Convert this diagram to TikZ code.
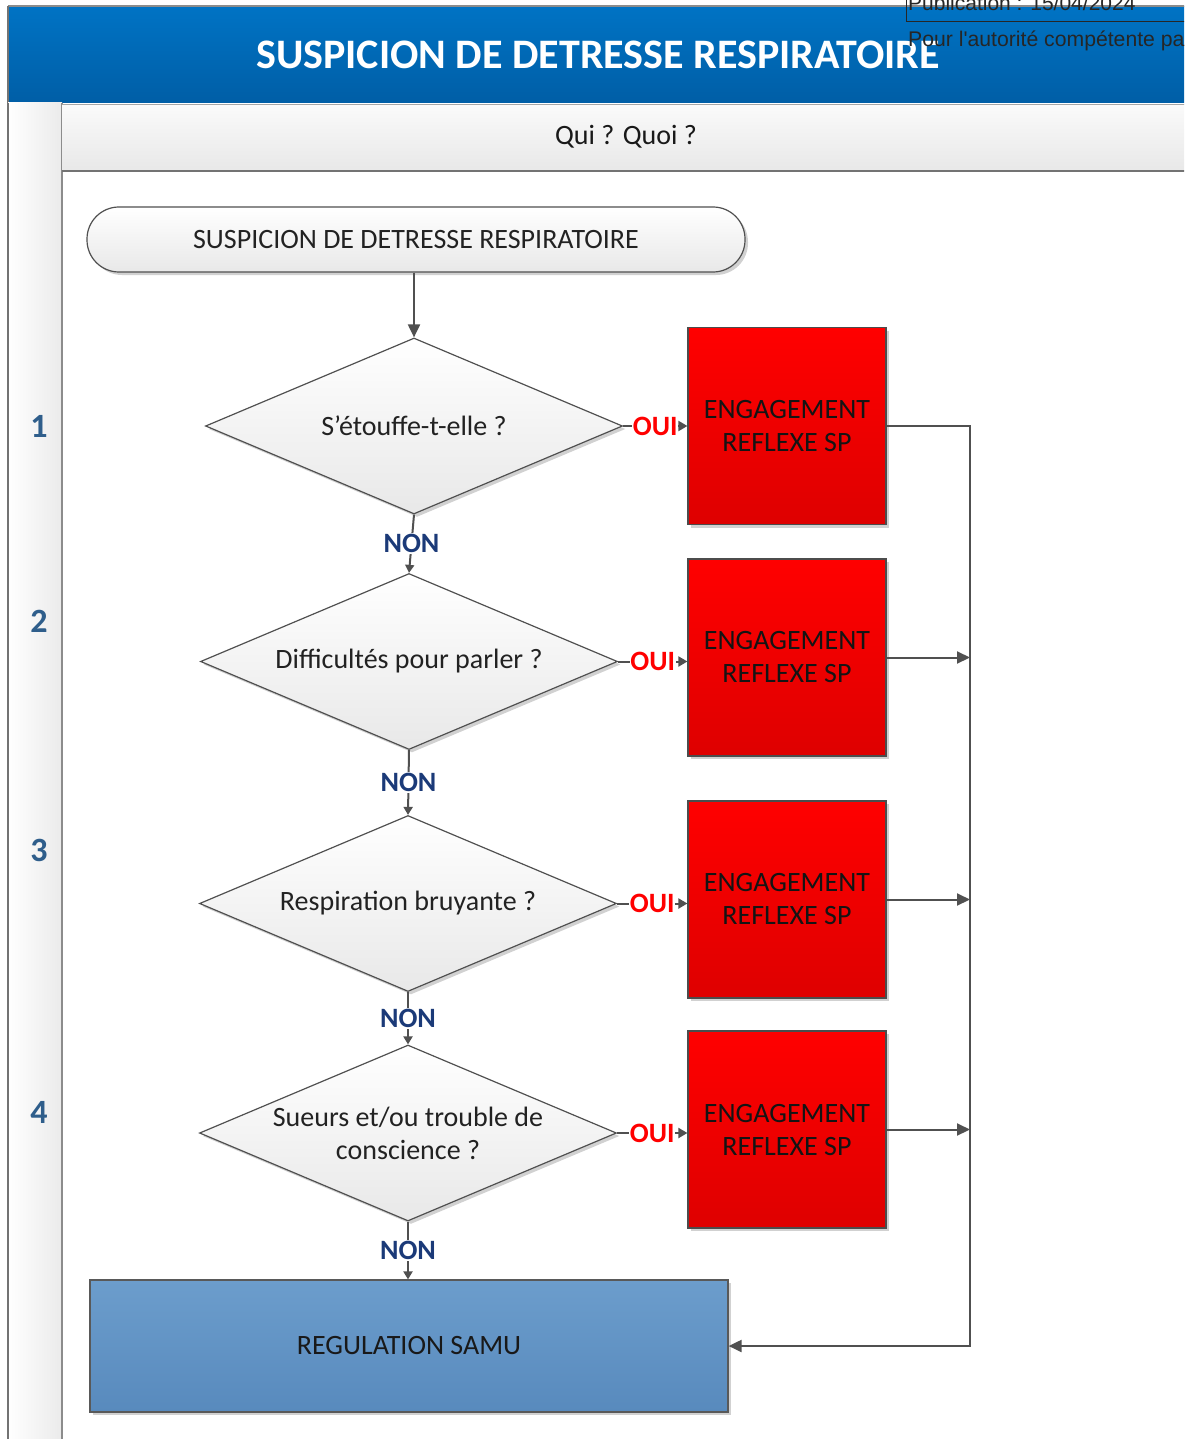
\documentclass[tikz,border=0pt]{standalone}
\usepackage{fontspec}
\setmainfont{Carlito}
\newfontfamily\arialfont{Liberation Sans}
\usetikzlibrary{shapes.geometric,arrows.meta,shadows,calc}

\definecolor{hdrtop}{HTML}{0073C4}
\definecolor{hdrbot}{HTML}{005EA6}
\definecolor{redtop}{HTML}{FF0000}
\definecolor{redbot}{HTML}{DE0000}
\definecolor{samutop}{HTML}{6C9DCC}
\definecolor{samubot}{HTML}{588ABD}
\definecolor{navy}{HTML}{1B3A78}
\definecolor{lanenum}{HTML}{2F5E8B}
\definecolor{edge}{HTML}{505050}
\definecolor{txt}{HTML}{222222}

\begin{document}
\begin{tikzpicture}[x=1pt,y=-1pt,
  base/.style={font=\fontsize{28}{33}\selectfont, text=txt, align=center, inner sep=0pt},
  softshadow/.style={drop shadow={shadow xshift=3pt,shadow yshift=-3pt,fill=black,opacity=0.18}},
  terminal/.style={base, draw=edge, line width=1.2pt, rectangle, rounded corners=32pt,
    minimum width=658pt, minimum height=65pt, top color=white, bottom color=black!9, softshadow},
  question/.style={base, draw=edge, line width=1.2pt, shape=diamond, aspect=2.37,
    minimum width=417pt, minimum height=176pt, top color=white, bottom color=black!9, softshadow},
  alarm/.style={base, text=black!92, draw=black!70, line width=1.2pt, rectangle,
    minimum width=198pt, minimum height=197pt, top color=redtop, bottom color=redbot, softshadow},
  samubox/.style={base, text=black!90, draw=black!65, line width=1.2pt, rectangle,
    minimum width=638pt, minimum height=132pt, top color=samutop, bottom color=samubot, softshadow},
  flow/.style={draw=edge, line width=2pt, -{Triangle[length=13pt,width=12pt]}},
  yesflow/.style={draw=edge, line width=2pt, -{Triangle[length=9pt,width=10pt]}},
  noflow/.style={draw=edge, line width=2pt, -{Triangle[length=8pt,width=9pt]}},
  nonlbl/.style={font=\bfseries\fontsize{28}{33}\selectfont, text=navy, fill=white, inner sep=1pt},
  ouilbl/.style={font=\bfseries\fontsize{28}{33}\selectfont, text=red, fill=white, inner sep=0.5pt},
  lanelbl/.style={font=\bfseries\fontsize{34}{40}\selectfont, text=lanenum}
]
\useasboundingbox (0,0) rectangle (1184,1439);
\clip (0,0) rectangle (1184,1439);

% ---- title band ----
\shade[top color=hdrtop, bottom color=hdrbot] (8,7) rectangle (1190,103);
\draw[black!45, line width=1.5pt] (8,6) -- (1190,6);
\draw[black!55, line width=1.2pt] (8,6) -- (8,103);
\node[font=\bfseries\fontsize{42}{50}\selectfont, text=white, inner sep=0pt] (title) at (598,55) {SUSPICION DE DETRESSE RESPIRATOIRE};

% ---- publication stamp ----
\draw[black!85, line width=0.8pt] (906,-5) -- (906,21.5) -- (1190,21.5);
\node[font=\arialfont\fontsize{21}{24}\selectfont, text=black!85, anchor=base west, inner sep=0pt] (pub) at (908,11) {Publication : 15/04/2024};
\node[font=\arialfont\fontsize{21.2}{24}\selectfont, text=black!85, anchor=base west, inner sep=0pt] (auth) at (908,47) {Pour l'autorité compétente pa};

% ---- swimlane frame ----
\shade[left color=white, right color=black!8] (8,103) rectangle (62,1445);
\draw[black!55, line width=1.6pt] (8,103) -- (8,1445);
\draw[black!45, line width=1.2pt] (62,103) -- (62,1445);
\shade[top color=black!2, bottom color=black!9] (62,105) rectangle (1190,171);
\draw[black!35, line width=1pt] (62,105) -- (1190,105);
\draw[black!55, line width=1.6pt] (62,171) -- (1190,171);
\node[base, text=black!90] (qq) at (626,137) {Qui ? Quoi ?};

\node[lanelbl] (n1) at (39,426) {1};
\node[lanelbl] (n2) at (39,621) {2};
\node[lanelbl] (n3) at (39,850) {3};
\node[lanelbl] (n4) at (39,1112) {4};

% ---- flow ----
\node[terminal] (start) at (416,239.5) {SUSPICION DE DETRESSE RESPIRATOIRE};

\node[question] (d1) at (414,426) {S’étouffe-t-elle ?};
\node[question] (d2) at (409,661.5) {Difficultés pour parler ?};
\node[question] (d3) at (408,903.5) {Respiration bruyante ?};
\node[question] (d4) at (408,1133) {Sueurs et/ou trouble de\\conscience ?};

\node[alarm] (r1) at (787,426) {ENGAGEMENT\\REFLEXE SP};
\node[alarm] (r2) at (787,657.5) {ENGAGEMENT\\REFLEXE SP};
\node[alarm] (r3) at (787,899.5) {ENGAGEMENT\\REFLEXE SP};
\node[alarm] (r4) at (787,1129.5) {ENGAGEMENT\\REFLEXE SP};

\node[samubox] (samu) at (409,1346) {REGULATION SAMU};

\coordinate (bus) at (970,0);

\draw[flow] (d1.north |- start.south) -- (d1.north);
\draw[noflow] (d1.south) -- node[nonlbl] {NON} (d2.north);
\draw[noflow] (d2.south) -- node[nonlbl] {NON} (d3.north);
\draw[noflow] (d3.south) -- node[nonlbl] {NON} (d4.north);
\draw[noflow] (d4.south) -- node[nonlbl] {NON} (d4.south |- samu.north);

\draw[yesflow] (d1.east) -- node[ouilbl] {OUI} (d1.east -| r1.west);
\draw[yesflow] (d2.east) -- node[ouilbl] {OUI} (d2.east -| r2.west);
\draw[yesflow] (d3.east) -- node[ouilbl] {OUI} (d3.east -| r3.west);
\draw[yesflow] (d4.east) -- node[ouilbl] {OUI} (d4.east -| r4.west);

\draw[flow] (r1.east) -- (r1.east -| bus) -- (bus |- samu.east) -- (samu.east);
\draw[flow] (r2.east) -- (r2.east -| bus);
\draw[flow] (r3.east) -- (r3.east -| bus);
\draw[flow] (r4.east) -- (r4.east -| bus);
\end{tikzpicture}
\end{document}
